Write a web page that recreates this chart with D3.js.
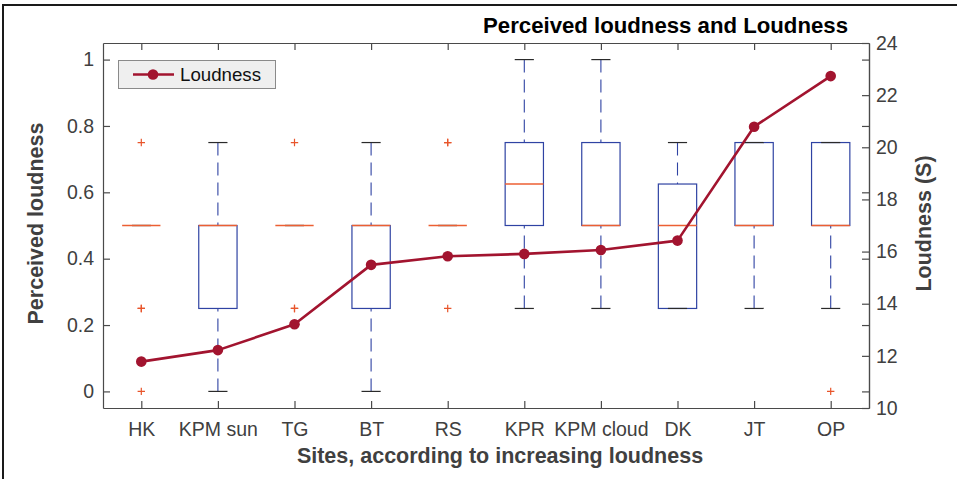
<!DOCTYPE html>
<html>
<head>
<meta charset="utf-8">
<script src="https://cdn.jsdelivr.net/npm/d3@7"></script>
<style>
  html, body { margin: 0; padding: 0; background: #fff; }
  svg { display: block; font-family: "Liberation Sans", Arial, Helvetica, sans-serif; }
</style>
</head>
<body>
<svg id="chart" width="957" height="479"></svg>
<script>
// ---------------- data ----------------
const categories = ["HK", "KPM sun", "TG", "BT", "RS", "KPR", "KPM cloud", "DK", "JT", "OP"];
const q1Values      = [0.5, 0.25, 0.5, 0.25, 0.5, 0.5,   0.5, 0.25,  0.5, 0.5];
const medianValues  = [0.5, 0.5,  0.5, 0.5,  0.5, 0.625, 0.5, 0.5,   0.5, 0.5];
const q3Values      = [0.5, 0.5,  0.5, 0.5,  0.5, 0.75,  0.75, 0.625, 0.75, 0.75];
const whiskerLow    = [0.5, 0,    0.5, 0,    0.5, 0.25,  0.25, 0.25,  0.25, 0.25];
const whiskerHigh   = [0.5, 0.75, 0.5, 0.75, 0.5, 1,     1,    0.75,  0.75, 0.75];
const outlierValues = [[0.75, 0.25, 0.25, 0], [], [0.75, 0.25, 0.25], [], [0.75, 0.75, 0.25], [], [], [], [], [0]];
const loudnessValues = [11.78, 12.22, 13.21, 15.49, 15.82, 15.91, 16.06, 16.42, 20.79, 22.73];
const leftTicks  = [0, 0.2, 0.4, 0.6, 0.8, 1];
const rightTicks = [10, 12, 14, 16, 18, 20, 22, 24];

// ---------------- layout ----------------
const svg = d3.select("#chart");
const L = 103, R = 869, T = 43, B = 408;
const axisColor = "#4a4a4a", textColor = "#404040";
const boxColor = "#2f43a3", medColor = "#ec5f33", outColor = "#e8552b", lineColor = "#A2142F";
const tickFont = "19.5px", labelFont = "21.5px";

const x = d3.scalePoint().domain(categories).range([L, R]).padding(0.5);
const step = x.step();
const yL = d3.scaleLinear().domain([-0.05, 1.05]).range([B, T]);
const yR = d3.scaleLinear().domain([10, 24]).range([B, T]);

// outer frame (figure border)
svg.append("path").attr("d", `M3,479 L3,5 L957,5`).attr("fill", "none")
  .attr("stroke", "#1a1a1a").attr("stroke-width", 2);

// ---------------- boxplots ----------------
const g = svg.append("g");
const boxW = step * 0.5, capW = step * 0.25;
categories.forEach((c, i) => {
  const cx = x(c);
  // whiskers (dashed)
  const wl = [[whiskerHigh[i], q3Values[i]], [whiskerLow[i], q1Values[i]]];
  wl.forEach(([a, b]) => {
    if (a !== b) {
      g.append("line").attr("x1", cx).attr("x2", cx).attr("y1", yL(a)).attr("y2", yL(b))
        .attr("stroke", boxColor).attr("stroke-width", 1.1).attr("stroke-dasharray", "13,7");
    }
  });
  // box
  g.append("rect").attr("x", cx - boxW / 2).attr("y", yL(q3Values[i]))
    .attr("width", boxW).attr("height", Math.max(0, yL(q1Values[i]) - yL(q3Values[i])))
    .attr("fill", "none").attr("stroke", boxColor).attr("stroke-width", 1.2);
  // caps
  [whiskerHigh[i], whiskerLow[i]].forEach(v => {
    g.append("line").attr("x1", cx - capW / 2).attr("x2", cx + capW / 2)
      .attr("y1", yL(v)).attr("y2", yL(v)).attr("stroke", "#2a2a2a").attr("stroke-width", 1.2);
  });
  // median
  g.append("line").attr("x1", cx - boxW / 2).attr("x2", cx + boxW / 2)
    .attr("y1", yL(medianValues[i])).attr("y2", yL(medianValues[i]))
    .attr("stroke", medColor).attr("stroke-width", 1.3);
  // outliers
  outlierValues[i].forEach(v => {
    const yy = yL(v);
    g.append("path").attr("d", `M${cx - 3.7},${yy} H${cx + 3.7} M${cx},${yy - 3.7} V${yy + 3.7}`)
      .attr("stroke", outColor).attr("stroke-width", 1.2).attr("fill", "none");
  });
});

// ---------------- axes ----------------
function styleAxis(sel) {
  sel.selectAll("path.domain").attr("stroke", axisColor).attr("stroke-width", 1.2);
  sel.selectAll(".tick line").attr("stroke", axisColor).attr("stroke-width", 1.2);
  sel.selectAll(".tick text").attr("fill", textColor)
    .style("font-size", tickFont).style("font-family", '"Liberation Sans", Arial, sans-serif');
}
svg.append("g").attr("transform", `translate(${L},0)`)
  .call(d3.axisLeft(yL).tickValues(leftTicks).tickSizeInner(-7).tickSizeOuter(0).tickPadding(9)
    .tickFormat(d => String(d)))
  .call(styleAxis);
svg.append("g").attr("transform", `translate(0,${B})`)
  .call(d3.axisBottom(x).tickSizeInner(-7).tickSizeOuter(0).tickPadding(14.5))
  .call(styleAxis);
svg.append("g").attr("transform", `translate(0,${T})`)
  .call(d3.axisTop(x).tickSizeInner(-7).tickSizeOuter(0).tickFormat(""))
  .call(styleAxis);
svg.append("g").attr("transform", `translate(${R},0)`)
  .call(d3.axisRight(yL).tickValues(leftTicks).tickSizeInner(-7).tickSizeOuter(0).tickFormat(""))
  .call(styleAxis);
svg.append("g").attr("transform", `translate(${R},0)`)
  .call(d3.axisRight(yR).tickValues(rightTicks).tickSizeInner(-7).tickSizeOuter(0).tickPadding(7)
    .tickFormat(d => String(d)))
  .call(styleAxis);

// ---------------- loudness line ----------------
const line = d3.line().x((d, i) => x(categories[i])).y(d => yR(d));
svg.append("path").datum(loudnessValues).attr("d", line)
  .attr("fill", "none").attr("stroke", lineColor).attr("stroke-width", 2.6).attr("stroke-linejoin", "round");
svg.append("g").selectAll("circle").data(loudnessValues).join("circle")
  .attr("cx", (d, i) => x(categories[i])).attr("cy", d => yR(d)).attr("r", 5.3)
  .attr("fill", lineColor);

// ---------------- legend ----------------
const lg = svg.append("g");
lg.append("rect").attr("x", 118.5).attr("y", 60.5).attr("width", 157).attr("height", 28)
  .attr("fill", "#efefef").attr("stroke", "#8a8a8a").attr("stroke-width", 1);
lg.append("line").attr("x1", 133).attr("x2", 174).attr("y1", 74.5).attr("y2", 74.5)
  .attr("stroke", lineColor).attr("stroke-width", 2.6);
lg.append("circle").attr("cx", 153).attr("cy", 74.5).attr("r", 5.3).attr("fill", lineColor);
lg.append("text").attr("x", 180).attr("y", 81).text("Loudness")
  .attr("fill", "#111").style("font-size", "18.7px");

// ---------------- titles / labels ----------------
svg.append("text").attr("x", 848).attr("y", 33).attr("text-anchor", "end")
  .text("Perceived loudness and Loudness").attr("fill", "#000")
  .style("font-size", "22.2px").style("font-weight", "bold");
svg.append("text").attr("x", 500).attr("y", 463).attr("text-anchor", "middle")
  .text("Sites, according to increasing loudness").attr("fill", textColor)
  .style("font-size", labelFont).style("font-weight", "bold");
svg.append("text").attr("transform", `translate(43,${(T + B) / 2 - 2}) rotate(-90)`).attr("text-anchor", "middle")
  .text("Perceived loudness").attr("fill", textColor)
  .style("font-size", labelFont).style("font-weight", "bold");
svg.append("text").attr("transform", `translate(931,${(T + B) / 2 - 2}) rotate(-90)`).attr("text-anchor", "middle")
  .text("Loudness (S)").attr("fill", textColor)
  .style("font-size", labelFont).style("font-weight", "bold");
</script>
</body>
</html>
